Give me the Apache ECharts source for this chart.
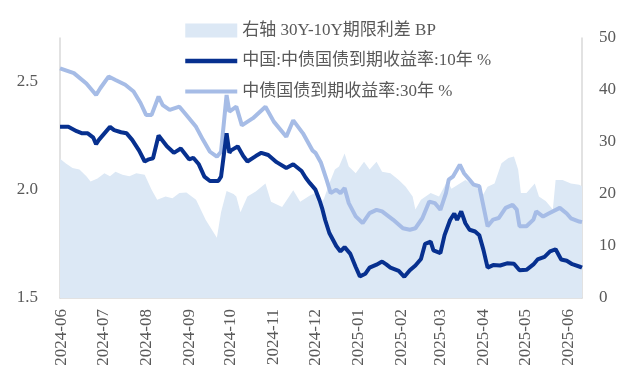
<!DOCTYPE html>
<html><head><meta charset="utf-8">
<script src="https://cdn.jsdelivr.net/npm/echarts@6/dist/echarts.min.js"></script>
<style>html,body{margin:0;padding:0;background:#fff}#c{width:630px;height:381px}</style>
</head><body><div id="c"></div>
<script>
// ---- data ----
const startDate = '2024-05-31';
const endDate = '2025-06-11';
const seriesNames = ['右轴 30Y-10Y期限利差 BP', '中国:中债国债到期收益率:10年 %', '中债国债到期收益率:30年 %'];

const dates10Y = ['2024-05-31','2024-06-06','2024-06-12','2024-06-16','2024-06-20','2024-06-24','2024-06-26','2024-06-28','2024-07-02','2024-07-06','2024-07-09','2024-07-14','2024-07-18','2024-07-22','2024-07-27','2024-07-31','2024-08-03','2024-08-06','2024-08-10','2024-08-16','2024-08-21','2024-08-26','2024-09-01','2024-09-04','2024-09-08','2024-09-12','2024-09-16','2024-09-22','2024-09-24','2024-09-28','2024-09-30','2024-10-01','2024-10-06','2024-10-10','2024-10-13','2024-10-19','2024-10-23','2024-10-28','2024-11-03','2024-11-10','2024-11-15','2024-11-21','2024-11-24','2024-11-27','2024-12-01','2024-12-04','2024-12-06','2024-12-08','2024-12-11','2024-12-16','2024-12-19','2024-12-22','2024-12-26','2024-12-30','2025-01-02','2025-01-06','2025-01-09','2025-01-14','2025-01-18','2025-01-21','2025-01-24','2025-01-30','2025-02-03','2025-02-07','2025-02-11','2025-02-15','2025-02-18','2025-02-22','2025-02-24','2025-03-01','2025-03-04','2025-03-08','2025-03-11','2025-03-13','2025-03-16','2025-03-19','2025-03-22','2025-03-26','2025-03-29','2025-04-01','2025-04-04','2025-04-08','2025-04-13','2025-04-18','2025-04-23','2025-04-27','2025-05-02','2025-05-07','2025-05-10','2025-05-15','2025-05-19','2025-05-23','2025-05-27','2025-05-31','2025-06-04','2025-06-10','2025-06-11'];
const yield10Y = [2.29,2.29,2.27,2.26,2.26,2.24,2.21,2.23,2.26,2.29,2.275,2.265,2.26,2.23,2.18,2.13,2.14,2.145,2.25,2.20,2.17,2.19,2.14,2.147,2.117,2.06,2.04,2.04,2.06,2.26,2.17,2.18,2.20,2.155,2.13,2.155,2.17,2.16,2.127,2.10,2.117,2.086,2.055,2.03,2.00,1.95,1.91,1.86,1.80,1.74,1.715,1.735,1.705,1.643,1.60,1.612,1.64,1.654,1.668,1.655,1.64,1.625,1.598,1.628,1.65,1.68,1.75,1.76,1.72,1.707,1.79,1.86,1.89,1.86,1.90,1.845,1.815,1.807,1.79,1.722,1.64,1.652,1.65,1.66,1.658,1.628,1.63,1.655,1.678,1.69,1.715,1.725,1.678,1.672,1.656,1.643,1.64];

const dates30Y = ['2024-05-31','2024-06-10','2024-06-19','2024-06-26','2024-06-29','2024-07-05','2024-07-10','2024-07-17','2024-07-23','2024-07-28','2024-08-01','2024-08-05','2024-08-10','2024-08-13','2024-08-18','2024-08-25','2024-08-30','2024-09-06','2024-09-11','2024-09-16','2024-09-21','2024-09-24','2024-09-28','2024-09-30','2024-10-05','2024-10-09','2024-10-17','2024-10-26','2024-11-01','2024-11-10','2024-11-15','2024-11-22','2024-11-29','2024-12-01','2024-12-05','2024-12-09','2024-12-12','2024-12-16','2024-12-19','2024-12-22','2024-12-25','2024-12-30','2025-01-04','2025-01-09','2025-01-14','2025-01-18','2025-01-26','2025-02-02','2025-02-07','2025-02-11','2025-02-16','2025-02-21','2025-02-25','2025-03-01','2025-03-05','2025-03-07','2025-03-10','2025-03-15','2025-03-18','2025-03-22','2025-03-25','2025-03-29','2025-04-02','2025-04-04','2025-04-08','2025-04-12','2025-04-17','2025-04-22','2025-04-25','2025-04-27','2025-05-02','2025-05-07','2025-05-09','2025-05-14','2025-05-18','2025-05-26','2025-05-31','2025-06-03','2025-06-09','2025-06-11'];
const yield30Y = [2.56,2.538,2.49,2.437,2.468,2.522,2.506,2.484,2.453,2.40,2.345,2.345,2.43,2.39,2.368,2.383,2.345,2.29,2.23,2.175,2.152,2.175,2.437,2.36,2.383,2.297,2.33,2.383,2.314,2.244,2.32,2.26,2.18,2.17,2.124,2.046,1.984,2.0,1.984,2.007,1.938,1.877,1.846,1.892,1.907,1.90,1.861,1.822,1.815,1.822,1.868,1.945,1.938,1.907,1.984,2.046,2.06,2.115,2.076,2.046,2.023,2.016,1.893,1.831,1.862,1.869,1.916,1.93,1.908,1.831,1.831,1.862,1.90,1.876,1.89,1.916,1.89,1.868,1.853,1.85];

const datesSpread = ['2024-05-31','2024-06-04','2024-06-09','2024-06-14','2024-06-19','2024-06-22','2024-06-27','2024-07-02','2024-07-06','2024-07-10','2024-07-15','2024-07-20','2024-07-25','2024-07-31','2024-08-05','2024-08-09','2024-08-15','2024-08-20','2024-08-25','2024-08-30','2024-09-06','2024-09-13','2024-09-21','2024-09-24','2024-09-28','2024-10-03','2024-10-05','2024-10-08','2024-10-13','2024-10-19','2024-10-26','2024-10-30','2024-11-07','2024-11-15','2024-11-20','2024-11-27','2024-12-01','2024-12-04','2024-12-07','2024-12-11','2024-12-15','2024-12-18','2024-12-22','2024-12-25','2024-12-30','2025-01-05','2025-01-09','2025-01-14','2025-01-18','2025-01-24','2025-01-30','2025-02-04','2025-02-09','2025-02-11','2025-02-15','2025-02-22','2025-02-28','2025-03-06','2025-03-09','2025-03-19','2025-03-27','2025-03-31','2025-04-04','2025-04-09','2025-04-14','2025-04-19','2025-04-23','2025-04-26','2025-04-28','2025-05-02','2025-05-08','2025-05-11','2025-05-16','2025-05-21','2025-05-23','2025-05-28','2025-06-03','2025-06-09','2025-06-11'];
const spreadBP = [26.8,25.9,25,24.7,23.4,22.4,23,24,23.4,24.3,23.7,23.4,24,23.7,20.8,18.9,19.5,19.2,20.2,20.3,18.9,15,11.6,16.5,20.6,20,19.5,16.5,19.5,20.5,22,18.5,17.5,20.7,18.5,19.7,20.2,18.2,19,22,24.7,25.3,27.8,25.3,24,26.2,24.7,26.2,24.3,24,22.7,21.4,19.5,17,18.9,20.2,19.5,22.5,21,22.7,21.4,19.5,21.4,22,25.9,26.9,27.2,24.7,20.2,20.2,22,19.5,18.6,17,22.7,22.7,22,21.8,21.5];

const leftTicks = {min: 1.5, max: 2.7, interval: 0.5};
const rightTicks = {min: 0, max: 50, interval: 10};

// ---- build ----
const cats = [];
for (let t = Date.parse(startDate); t <= Date.parse(endDate); t += 86400000) {
  cats.push(new Date(t).toISOString().slice(0, 10));
}
const idx = {};
cats.forEach((c, i) => { idx[c] = i; });
function toDaily(ds, vs) {
  const arr = new Array(cats.length).fill(null);
  ds.forEach((d, i) => { arr[idx[d]] = vs[i]; });
  return arr;
}

const FONT = "'Liberation Serif','Noto Sans CJK SC',serif";
const TXT = '#595959';
const AXC = '#d9d9d9';
const C_AREA = '#dce8f5', C_10 = '#07308f', C_30 = '#a6bce6';

const chart = echarts.init(document.getElementById('c'), null, {renderer: 'canvas'});
chart.setOption({
  animation: false,
  backgroundColor: '#fff',
  grid: {left: 60, right: 48, top: 38, bottom: 83, containLabel: false},
  legend: {
    orient: 'vertical', left: 178, top: 17, itemWidth: 52, itemHeight: 14, itemGap: 13.5,
    textStyle: {fontFamily: FONT, fontSize: 17, color: TXT},
    data: [
      {name: seriesNames[0], icon: 'rect', itemStyle: {color: C_AREA}},
      {name: seriesNames[1], lineStyle: {width: 4.5}, itemStyle: {opacity: 0}},
      {name: seriesNames[2], lineStyle: {width: 4}, itemStyle: {opacity: 0}}
    ]
  },
  xAxis: {
    type: 'category', data: cats, boundaryGap: false,
    axisLine: {show: true, lineStyle: {color: AXC, width: 1.5}},
    axisTick: {show: false},
    splitLine: {show: false},
    axisLabel: {
      interval: (i, v) => v.slice(8) === '01',
      formatter: v => v.slice(0, 7),
      rotate: 90, margin: 11, fontFamily: FONT, fontSize: 17, color: TXT
    }
  },
  yAxis: [
    {
      type: 'value', position: 'left', min: leftTicks.min, max: leftTicks.max, interval: leftTicks.interval,
      axisLine: {show: true, lineStyle: {color: AXC, width: 1.5}},
      axisTick: {show: false}, splitLine: {show: false},
      axisLabel: {showMaxLabel: false, formatter: v => v.toFixed(1), margin: 22, fontFamily: FONT, fontSize: 17, color: TXT}
    },
    {
      type: 'value', position: 'right', min: rightTicks.min, max: rightTicks.max, interval: rightTicks.interval,
      axisLine: {show: true, lineStyle: {color: AXC, width: 1.5}},
      axisTick: {show: false}, splitLine: {show: false},
      axisLabel: {margin: 17, fontFamily: FONT, fontSize: 17, color: TXT}
    }
  ],
  series: [
    {
      name: seriesNames[0], type: 'line', yAxisIndex: 1, symbol: 'none', connectNulls: true,
      data: toDaily(datesSpread, spreadBP),
      lineStyle: {width: 0, color: C_AREA}, itemStyle: {color: C_AREA},
      areaStyle: {color: C_AREA, opacity: 1}, z: 1
    },
    {
      name: seriesNames[1], type: 'line', yAxisIndex: 0, symbol: 'none', connectNulls: true,
      data: toDaily(dates10Y, yield10Y),
      lineStyle: {width: 4, color: C_10}, itemStyle: {color: C_10}, z: 4
    },
    {
      name: seriesNames[2], type: 'line', yAxisIndex: 0, symbol: 'none', connectNulls: true,
      data: toDaily(dates30Y, yield30Y),
      lineStyle: {width: 4, color: C_30}, itemStyle: {color: C_30}, z: 3
    }
  ]
});
</script>
</body></html>
